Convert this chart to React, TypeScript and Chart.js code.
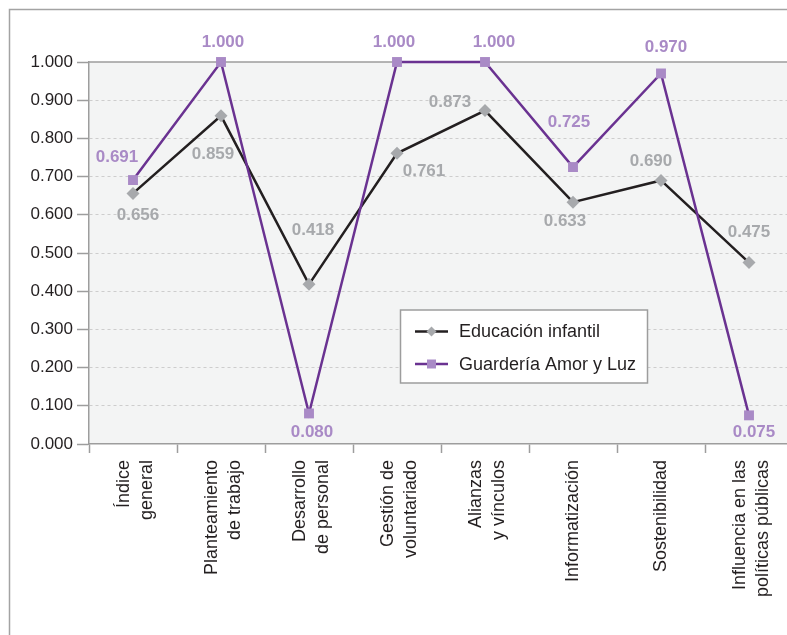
import React, { useEffect, useRef } from "react";
import { Chart, registerables } from "chart.js";

Chart.register(...registerables);

// ---- data ----
const categories: string[][] = [
  ["Índice", "general"],
  ["Planteamiento", "de trabajo"],
  ["Desarrollo", "de personal"],
  ["Gestión de", "voluntariado"],
  ["Alianzas", "y vínculos"],
  ["Informatización"],
  ["Sostenibilidad"],
  ["Influencia en las", "políticas públicas"],
];
const educacionInfantil = [0.656, 0.859, 0.418, 0.761, 0.873, 0.633, 0.69, 0.475];
const guarderiaAmorYLuz = [0.691, 1.0, 0.08, 1.0, 1.0, 0.725, 0.97, 0.075];
const seriesNames = ["Educación infantil", "Guardería Amor y Luz"];
const yMin = 0;
const yMax = 1;
const yStep = 0.1;

// ---- styles ----
const FONT = "'Liberation Sans', Arial, sans-serif";
const TEXT = "#231f20";
const AXIS = "#9d9d9d";
const GRID = "#cdcdcd";
const PLOT_BG = "#f3f4f4";
const EDU_LINE = "#231f20";
const EDU_MARK = "#a7a9ac";
const GUA_LINE = "#6a3291";
const GUA_MARK = "#a98ac6";

// label offsets (dx, dy) relative to each point, in px
const eduLabelOffsets = [
  [5, 22], [-8, 38], [4, -54], [27, 18], [-35, -8], [-8, 19], [-10, -19], [0, -30],
];
const guaLabelOffsets = [
  [-16, -23], [2, -20], [3, 19], [-3, -20], [9, -20], [-4, -45], [5, -26], [5, 17],
];

// single-line labels get an empty leading line so every label is centred on its category
const tickLabels = categories.map((c) => (c.length === 1 ? ["", c[0]] : c));

const framePlugin = {
  id: "frame",
  beforeDraw(chart: any) {
    const { ctx, chartArea } = chart;
    ctx.save();
    ctx.fillStyle = "#ffffff";
    ctx.fillRect(0, 0, chart.width, chart.height);
    ctx.strokeStyle = "#a3a3a3";
    ctx.lineWidth = 1.5;
    ctx.strokeRect(9.5, 9.5, chart.width + 50, chart.height + 50);
    ctx.fillStyle = PLOT_BG;
    ctx.fillRect(
      chartArea.left,
      chartArea.top,
      chartArea.right - chartArea.left,
      chartArea.bottom - chartArea.top
    );
    ctx.restore();
  },
  beforeDatasetsDraw(chart: any) {
    const { ctx, chartArea } = chart;
    ctx.save();
    ctx.strokeStyle = AXIS;
    ctx.lineWidth = 1.5;
    ctx.beginPath();
    ctx.moveTo(chartArea.left, chartArea.top);
    ctx.lineTo(chartArea.right, chartArea.top);
    ctx.stroke();
    ctx.restore();
  },
};

const labelsPlugin = {
  id: "pointLabels",
  afterDatasetsDraw(chart: any) {
    const { ctx } = chart;
    ctx.save();
    ctx.font = `bold 17px ${FONT}`;
    ctx.textAlign = "center";
    ctx.textBaseline = "middle";
    chart.data.datasets.forEach((ds: any, di: number) => {
      const meta = chart.getDatasetMeta(di);
      const offs = di === 0 ? eduLabelOffsets : guaLabelOffsets;
      ctx.fillStyle = di === 0 ? EDU_MARK : GUA_MARK;
      meta.data.forEach((pt: any, i: number) => {
        const v = ds.data[i] as number;
        ctx.fillText(v.toFixed(3), pt.x + offs[i][0], pt.y + offs[i][1]);
      });
    });
    ctx.restore();
  },
};

const legendPlugin = {
  id: "boxLegend",
  afterDraw(chart: any) {
    const { ctx, chartArea } = chart;
    const x = chartArea.left + 311.5;
    const y = chartArea.top + 248;
    const w = 247;
    const h = 73;
    ctx.save();
    ctx.fillStyle = "#ffffff";
    ctx.fillRect(x, y, w, h);
    ctx.strokeStyle = AXIS;
    ctx.lineWidth = 1.5;
    ctx.strokeRect(x, y, w, h);
    const items = [
      { name: seriesNames[0], line: EDU_LINE, mark: EDU_MARK, shape: "diamond", cy: y + 21.5 },
      { name: seriesNames[1], line: GUA_LINE, mark: GUA_MARK, shape: "square", cy: y + 54 },
    ];
    items.forEach((it) => {
      const lx0 = x + 14.5;
      const lx1 = x + 47.5;
      const mx = (lx0 + lx1) / 2;
      ctx.strokeStyle = it.line;
      ctx.lineWidth = 2.5;
      ctx.beginPath();
      ctx.moveTo(lx0, it.cy);
      ctx.lineTo(lx1, it.cy);
      ctx.stroke();
      ctx.fillStyle = it.mark;
      ctx.beginPath();
      if (it.shape === "diamond") {
        const r = 5;
        ctx.moveTo(mx, it.cy - r);
        ctx.lineTo(mx + r, it.cy);
        ctx.lineTo(mx, it.cy + r);
        ctx.lineTo(mx - r, it.cy);
        ctx.closePath();
      } else {
        ctx.rect(mx - 4.5, it.cy - 4.5, 9, 9);
      }
      ctx.fill();
      ctx.fillStyle = TEXT;
      ctx.font = `18px ${FONT}`;
      ctx.textAlign = "left";
      ctx.textBaseline = "middle";
      ctx.fillText(it.name, x + 58.5, it.cy + 1);
    });
    ctx.restore();
  },
};

export default function App() {
  const ref = useRef<HTMLCanvasElement>(null);

  useEffect(() => {
    const canvas = ref.current;
    if (!canvas) return;
    const chart = new Chart(canvas, {
      type: "line",
      data: {
        labels: tickLabels as any,
        datasets: [
          {
            label: seriesNames[0],
            data: educacionInfantil,
            borderColor: EDU_LINE,
            borderWidth: 2.5,
            tension: 0,
            pointStyle: "rectRot",
            pointRadius: 6.5,
            pointBackgroundColor: EDU_MARK,
            pointBorderColor: EDU_MARK,
            pointBorderWidth: 0,
            clip: false as any,
            order: 1,
          },
          {
            label: seriesNames[1],
            data: guarderiaAmorYLuz,
            borderColor: GUA_LINE,
            borderWidth: 2.5,
            tension: 0,
            pointStyle: "rect",
            pointRadius: 7,
            pointBackgroundColor: GUA_MARK,
            pointBorderColor: GUA_MARK,
            pointBorderWidth: 0,
            clip: false as any,
            order: 0,
          },
        ],
      },
      options: {
        responsive: false,
        animation: false,
        devicePixelRatio: 1,
        layout: { padding: { left: 0, top: 62, right: 7, bottom: 0 } },
        plugins: {
          legend: { display: false },
          tooltip: { enabled: false },
        },
        scales: {
          x: {
            offset: true,
            grid: {
              offset: true,
              drawOnChartArea: false,
              drawTicks: true,
              tickLength: 9,
              tickColor: AXIS,
              tickWidth: 1.5,
            },
            border: { display: true, color: AXIS, width: 1.5 },
            ticks: {
              autoSkip: false,
              maxRotation: 90,
              minRotation: 90,
              padding: 7,
              labelOffset: -9,
              color: TEXT,
              font: (c: any) => ({
                family: FONT,
                size: 18,
                lineHeight:
                  categories[c.index] && categories[c.index].length === 1 ? "9.5px" : "23px",
              }),
            },
            afterFit: (s: any) => {
              s.height = 191;
              s.paddingLeft = 0;
              s.paddingRight = 0;
            },
          },
          y: {
            min: yMin,
            max: yMax,
            ticks: {
              stepSize: yStep,
              callback: (v: any) => Number(v).toFixed(3),
              padding: 4,
              color: TEXT,
              font: { family: FONT, size: 17 },
            },
            grid: {
              color: (c: any) =>
                c.tick && (Math.abs(c.tick.value) < 1e-9 || Math.abs(c.tick.value - 1) < 1e-9)
                  ? "rgba(0,0,0,0)"
                  : GRID,
              lineWidth: 1,
              drawTicks: true,
              tickLength: 12,
              tickColor: AXIS,
              tickWidth: 1.5,
              tickBorderDash: [],
            },
            border: { display: true, color: AXIS, width: 1.5, dash: [3, 3] },
            afterFit: (s: any) => {
              s.width = 89;
            },
          },
        },
      } as any,
      plugins: [framePlugin, labelsPlugin, legendPlugin],
    });
    return () => chart.destroy();
  }, []);

  return (
    <div
      style={{
        position: "absolute",
        left: 0,
        top: 0,
        width: 787,
        height: 635,
        overflow: "hidden",
        background: "#fff",
      }}
    >
      <canvas
        ref={ref}
        width={800}
        height={635}
        style={{ display: "block", width: 800, height: 635 }}
      />
    </div>
  );
}
